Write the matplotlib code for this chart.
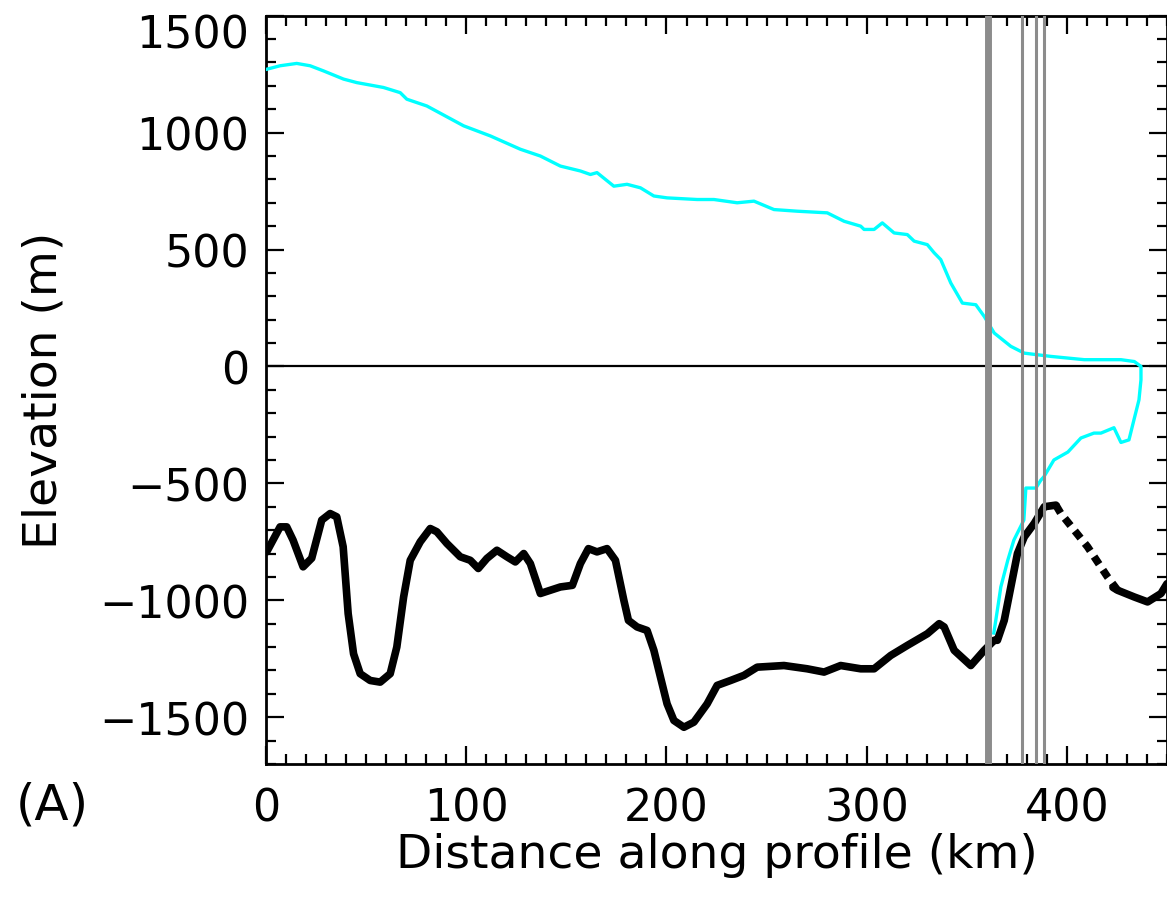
import numpy as np
import matplotlib
matplotlib.use("Agg")
import matplotlib.pyplot as plt

# ice surface, then back along the shelf underside (km, m)
surf_km = [0.3, 7, 15.3, 22, 28.7, 38.7, 45.3, 58.7, 67, 70.3, 80.3, 98.7, 112,
           127, 137, 147, 157, 162, 165.3, 173.7, 180.3, 187, 193.7, 200.3,
           215.3, 223.7, 235.3, 243.7, 253.7, 265.3, 280.3, 288.7, 297, 298.7,
           303.7, 307.8, 313.7, 320.3, 323.7, 330.3, 333.7, 337, 342, 347.8,
           354.5, 358.7, 363.7, 372, 378.7, 392, 408.7, 427, 433.7, 437,
           437, 436, 433.5, 431, 427, 423.5, 417, 413.5, 407, 400.5, 393.5,
           388.5, 387, 384.5, 379.5, 378.5, 373.5, 370.5, 367, 365.5, 363.5]
surf_m = [1271, 1286, 1296, 1286, 1264, 1229, 1214, 1193, 1171, 1143, 1114,
          1029, 986, 929, 900, 857, 836, 821, 829, 771, 779, 764, 729, 721,
          714, 714, 700, 707, 671, 664, 657, 621, 600, 586, 586, 614, 571,
          564, 536, 521, 486, 457, 357, 271, 264, 214, 143, 86, 57, 43, 29,
          29, 21, 0,
          -57, -143, -228, -314, -325, -262, -285, -285, -306, -366, -400,
          -472, -486, -520, -520, -657, -743, -828, -943, -1029, -1140]

# bed elevation (solid part)
bed_km = [0.3, 7, 10.3, 13.5, 18.5, 22.8, 27.8, 32, 35.3, 38.5, 41, 43.7, 47,
          52, 57, 62, 65.3, 68.7, 72, 77, 82, 85.3, 90.3, 97, 102, 106, 110.3,
          115.3, 120.3, 124.5, 128.7, 132, 137, 142, 147, 153, 157, 161, 165.3,
          170.3, 174.5, 178.7, 181, 185.3, 190.3, 193.7, 197, 200.3, 203.7,
          208.7, 213.7, 220.3, 225.3, 232, 238.7, 245.3, 258.7, 270.3, 278.7,
          287, 297, 303.7, 312, 320.3, 330.3, 336.2, 338.7, 343.7, 352, 358.7,
          363.7, 365.3, 368.7, 372, 375.3, 378.7, 383.7, 388.7, 394.5]
bed_m = [-793, -686, -686, -743, -857, -820, -657, -629, -643, -771, -1057,
         -1229, -1314, -1343, -1350, -1314, -1200, -986, -829, -750, -693,
         -707, -757, -814, -829, -864, -821, -786, -814, -836, -800, -843,
         -971, -957, -943, -936, -843, -779, -793, -779, -829, -1000, -1086,
         -1114, -1129, -1214, -1329, -1443, -1514, -1543, -1521, -1443, -1364,
         -1343, -1321, -1286, -1279, -1293, -1307, -1279, -1293, -1293, -1236,
         -1193, -1143, -1100, -1114, -1214, -1279, -1214, -1171, -1171, -1086,
         -943, -800, -729, -671, -600, -593]

# bed beyond the ice front: dotted, then solid again
bed_dot_km = [394.5, 397, 410.3, 420.3, 425.3]
bed_dot_m = [-593, -629, -771, -900, -957]
bed_end_km = [423, 425.3, 433.7, 440.3, 447, 450]
bed_end_m = [-945, -957, -986, -1007, -971, -929]

# grey markers (km)
marker_km = [360.5, 377.5, 384.5, 388.5]
marker_lw = [5, 2.2, 2.2, 2.2]

plt.rcParams["font.family"] = ["DejaVu Sans"]
plt.rcParams["font.size"] = 32

fig = plt.figure(figsize=(11.67, 9.04), dpi=100)
ax = fig.add_axes([0.228, 0.1538, 0.772, 0.8277])

for xk, lw in zip(marker_km, marker_lw):
    ax.axvline(xk, color="#8c8c8c", lw=lw, zorder=4)
ax.axhline(0, color="k", lw=1.6, zorder=2)
ax.plot(surf_km, surf_m, color="#00ffff", lw=2.4, zorder=3)
ax.plot(bed_km, bed_m, color="k", lw=5.5, solid_capstyle="round",
        solid_joinstyle="round", zorder=3)
ax.plot(bed_dot_km, bed_dot_m, color="k", lw=5.5, ls=(0, (1.2, 0.9)),
        dash_capstyle="butt", zorder=3)
ax.plot(bed_end_km, bed_end_m, color="k", lw=5.5, solid_capstyle="round",
        zorder=3)

ax.set_xlim(0, 450)
ax.set_ylim(-1700, 1500)
ax.set_xticks([0, 100, 200, 300, 400])
ax.set_xticks(np.arange(0, 451, 10), minor=True)
ax.set_yticks([-1500, -1000, -500, 0, 500, 1000, 1500])
ax.set_yticks(np.arange(-1700, 1501, 100), minor=True)
ax.set_yticklabels(["\u22121500", "\u22121000", "\u2212500", "0", "500",
                    "1000", ""])
ax.tick_params(which="both", direction="in", top=True, right=True, width=1.6)
ax.tick_params(which="major", length=13)
ax.tick_params(which="minor", length=7)
ax.tick_params(axis="x", pad=16)
ax.tick_params(axis="y", pad=12)
for s in ax.spines.values():
    s.set_linewidth(2)

# top tick label sits lower, as in the original
ax.annotate("1500", xy=(0, 1500), xycoords=ax.get_yaxis_transform(),
            xytext=(-12, -14), textcoords="offset points",
            ha="right", va="center")

ax.set_xlabel("Distance along profile (km)", fontsize=34, labelpad=2)
ax.set_ylabel("Elevation (m)", fontsize=34, labelpad=2)
ax.yaxis.set_label_coords(-0.222, 0.5)
fig.text(0.045, 1 - 806 / 904, "(A)", ha="center", va="center", fontsize=36)

fig.savefig("out.png", dpi=100)
